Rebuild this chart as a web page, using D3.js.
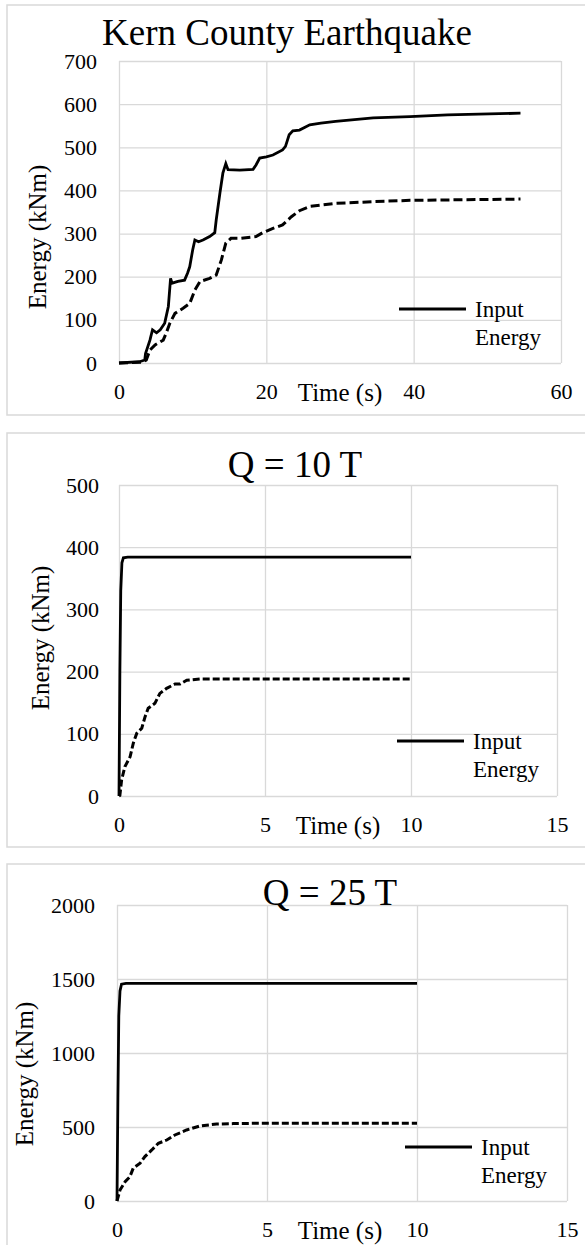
<!DOCTYPE html>
<html>
<head>
<meta charset="utf-8">
<script src="https://cdn.jsdelivr.net/npm/d3@7"></script>
<style>
  body { margin: 0; background: #fff; }
  svg text { font-family: "Liberation Serif", "Times New Roman", Times, "DejaVu Serif", serif; fill: #000; }
</style>
</head>
<body>
<div id="chart"></div>
<script>
// Kern County Earthquake
var kernInputTime = [0, 2.8, 3.5, 3.6, 4.2, 4.55, 5.1, 5.6, 6.2, 6.3, 6.7, 7.0, 7.2, 8.0, 8.9, 9.3, 9.6, 10.0, 10.3, 10.8, 11.4, 12.3, 13.0, 13.2, 13.7, 14.1, 14.5, 14.8, 16.4, 18.2, 18.6, 19.1, 20.0, 20.9, 22.2, 22.6, 23.1, 23.6, 24.5, 25.9, 27.4, 29.4, 34.5, 39.5, 44.6, 54.5];
var kernInputEnergy = [0, 3, 7, 22, 53, 77, 70, 77, 92, 100, 131, 196, 185, 189, 192, 208, 223, 262, 285, 281, 285, 293, 302, 332, 394, 440, 462, 448, 447, 449, 459, 475, 478, 482, 494, 502, 529, 538, 540, 552, 556, 560, 568, 571, 575, 579];
var kernOtherTime = [0, 3.3, 3.7, 4.2, 4.9, 6.0, 6.4, 6.9, 7.6, 8.7, 9.6, 10.3, 11.0, 12.3, 13.2, 13.9, 14.5, 15.2, 16.4, 18.6, 19.5, 20.9, 22.2, 23.4, 24.5, 25.9, 29.4, 34.5, 39.5, 54.5];
var kernOtherEnergy = [0, 2, 7, 30, 42, 53, 69, 92, 115, 127, 138, 169, 189, 196, 204, 239, 278, 289, 289, 293, 302, 312, 320, 339, 353, 363, 370, 374, 377, 380];

// Q = 10 T
var q10InputTime = [0, 0.03, 0.06, 0.1, 0.15, 0.3, 10];
var q10InputEnergy = [0, 200, 330, 375, 383, 384, 384];
var q10OtherTime = [0, 0.03, 0.09, 0.2, 0.38, 0.49, 0.61, 0.78, 0.89, 1.0, 1.23, 1.4, 1.63, 1.92, 2.09, 2.32, 2.77, 10];
var q10OtherEnergy = [0, 1, 26, 47, 63, 85, 101, 109, 127, 141, 149, 165, 173, 180, 180, 186, 188, 188];

// Q = 25 T
var q25InputTime = [0, 0.03, 0.06, 0.1, 0.15, 0.3, 10];
var q25InputEnergy = [0, 700, 1250, 1420, 1465, 1470, 1470];
var q25OtherTime = [0, 0.1, 0.27, 0.43, 0.54, 0.77, 0.93, 1.16, 1.38, 1.66, 1.93, 2.32, 2.77, 3.32, 3.88, 4.7, 10];
var q25OtherEnergy = [0, 74, 130, 164, 221, 255, 300, 345, 390, 412, 446, 480, 507, 520, 523, 525, 525];

var kernXTicks = [0, 20, 40, 60];
var kernYTicks = [0, 100, 200, 300, 400, 500, 600, 700];
var qXTicks = [0, 5, 10, 15];
var q10YTicks = [0, 100, 200, 300, 400, 500];
var q25YTicks = [0, 500, 1000, 1500, 2000];

var svg = d3.select('#chart')
    .append('svg')
    .attr('width', 585)
    .attr('height', 1245);

function pairs(t, e) {
  return t.map(function(d, i) { return [d, e[i]]; });
}

function drawChart(c) {
  var g = svg.append('g');

  // outer frame
  g.append('rect')
      .attr('x', c.box[0]).attr('y', c.box[1])
      .attr('width', 620).attr('height', c.box[2])
      .attr('fill', '#fff')
      .attr('stroke', '#d9d9d9')
      .attr('stroke-width', 1.5);

  var x = d3.scaleLinear().domain(d3.extent(c.xTicks)).range([c.left, c.right]);
  var y = d3.scaleLinear().domain(d3.extent(c.yTicks)).range([c.bottom, c.top]);

  // grid
  g.append('g')
      .attr('transform', 'translate(0,' + c.bottom + ')')
      .call(d3.axisBottom(x).tickValues(c.xTicks).tickSize(-(c.bottom - c.top)).tickFormat(''))
      .call(function(s) {
        s.select('.domain').remove();
        s.selectAll('line').attr('stroke', '#d9d9d9').attr('stroke-width', 1.3);
      });
  g.append('g')
      .attr('transform', 'translate(' + c.left + ',0)')
      .call(d3.axisLeft(y).tickValues(c.yTicks).tickSize(-(c.right - c.left)).tickFormat(''))
      .call(function(s) {
        s.select('.domain').remove();
        s.selectAll('line').attr('stroke', '#d9d9d9').attr('stroke-width', 1.3);
      });

  // tick labels
  g.append('g')
      .attr('transform', 'translate(' + c.left + ',0)')
      .call(d3.axisLeft(y).tickValues(c.yTicks).tickFormat(d3.format('d'))
          .tickSize(0).tickPadding(c.left - c.yLabelRight))
      .call(function(s) {
        s.select('.domain').remove();
        s.attr('font-family', null).attr('font-size', null);
        s.selectAll('text').attr('font-size', 22);
      });
  g.append('g')
      .attr('transform', 'translate(0,' + c.bottom + ')')
      .call(d3.axisBottom(x).tickValues(c.xTicks).tickFormat(d3.format('d')).tickSize(0))
      .call(function(s) {
        s.select('.domain').remove();
        s.attr('font-family', null).attr('font-size', null);
        s.selectAll('text')
            .attr('font-size', 22)
            .attr('y', 36).attr('dy', 0);
      });

  // lines
  var line = d3.line()
      .x(function(d) { return x(d[0]); })
      .y(function(d) { return y(d[1]); });

  g.append('path')
      .datum(pairs(c.otherTime, c.otherEnergy))
      .attr('d', line)
      .attr('fill', 'none')
      .attr('stroke', '#000')
      .attr('stroke-width', 3)
      .attr('stroke-dasharray', c.dash);
  g.append('path')
      .datum(pairs(c.inputTime, c.inputEnergy))
      .attr('d', line)
      .attr('fill', 'none')
      .attr('stroke', '#000')
      .attr('stroke-width', 2.8);

  // titles
  g.append('text')
      .attr('x', c.titleX).attr('y', c.titleY)
      .attr('text-anchor', 'middle')
      .attr('font-size', 37)
      .text(c.title);
  g.append('text')
      .attr('x', c.xTitleX).attr('y', c.bottom + 38)
      .attr('text-anchor', 'middle')
      .attr('font-size', 25)
      .text('Time (s)');
  g.append('text')
      .attr('transform', 'translate(' + c.yTitle[0] + ',' + c.yTitle[1] + ') rotate(-90)')
      .attr('text-anchor', 'middle')
      .attr('dominant-baseline', 'middle')
      .attr('font-size', 25)
      .text('Energy (kNm)');

  // legend
  g.append('line')
      .attr('x1', c.legend[0]).attr('x2', c.legend[0] + 67)
      .attr('y1', c.legend[1]).attr('y2', c.legend[1])
      .attr('stroke', '#000').attr('stroke-width', 2.8);
  g.append('text')
      .attr('x', c.legend[0] + 76).attr('y', c.legend[1] + 3)
      .attr('dominant-baseline', 'middle')
      .attr('font-size', 23)
      .text('Input');
  g.append('text')
      .attr('x', c.legend[0] + 76).attr('y', c.legend[1] + 31)
      .attr('dominant-baseline', 'middle')
      .attr('font-size', 23)
      .text('Energy');
}

drawChart({
  box: [7, 5, 410], left: 119, right: 561, top: 61, bottom: 363,
  xTicks: kernXTicks, yTicks: kernYTicks, yLabelRight: 97,
  inputTime: kernInputTime, inputEnergy: kernInputEnergy,
  otherTime: kernOtherTime, otherEnergy: kernOtherEnergy, dash: '9,4',
  title: 'Kern County Earthquake', titleX: 287, titleY: 45,
  xTitleX: 340, yTitle: [40, 237], legend: [399, 309]
});

drawChart({
  box: [7, 433, 414], left: 119, right: 557, top: 485, bottom: 796,
  xTicks: qXTicks, yTicks: q10YTicks, yLabelRight: 99,
  inputTime: q10InputTime, inputEnergy: q10InputEnergy,
  otherTime: q10OtherTime, otherEnergy: q10OtherEnergy, dash: '7,3',
  title: 'Q = 10 T', titleX: 295, titleY: 477,
  xTitleX: 338, yTitle: [43, 638], legend: [397, 741]
});

drawChart({
  box: [7, 864, 414], left: 117, right: 567, top: 905, bottom: 1201,
  xTicks: qXTicks, yTicks: q25YTicks, yLabelRight: 95,
  inputTime: q25InputTime, inputEnergy: q25InputEnergy,
  otherTime: q25OtherTime, otherEnergy: q25OtherEnergy, dash: '7,3',
  title: 'Q = 25 T', titleX: 330, titleY: 905,
  xTitleX: 340, yTitle: [27, 1074], legend: [405, 1147]
});
</script>
</body>
</html>
